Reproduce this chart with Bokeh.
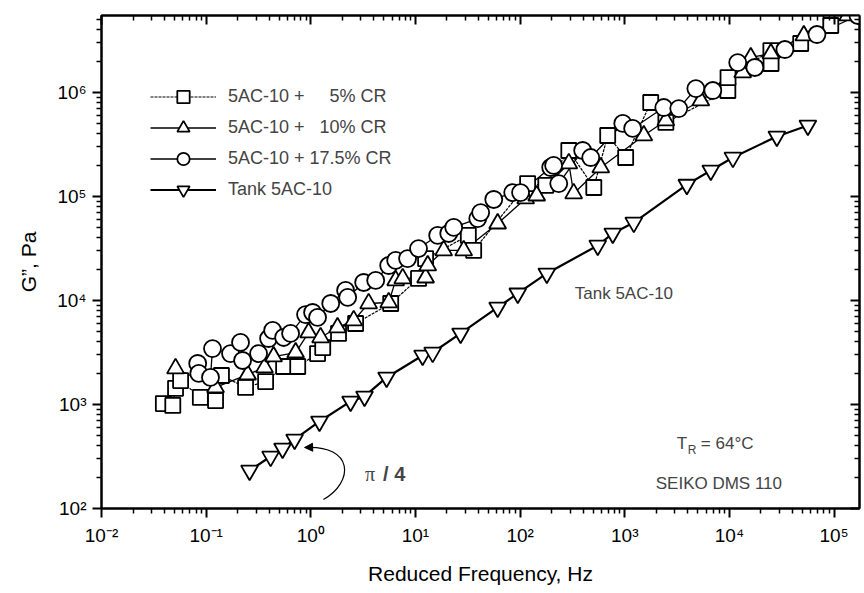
import numpy as np
from bokeh.plotting import figure
from bokeh.models import (LogAxis, FixedTicker, CustomJSTickFormatter, Legend, LegendItem,
                          Label, Arrow, NormalHead, Range1d)
from bokeh.embed import file_html
from bokeh.resources import INLINE

# ---------------- data ----------------
sq_x = [0.039, 0.048, 0.051, 0.057, 0.088, 0.123, 0.14, 0.238, 0.37, 0.55, 0.75, 1.16, 1.3, 1.84, 2.68,
        5.8, 10.7, 12.5, 32, 36, 118, 176, 292, 506, 687, 1020, 1770, 2470, 9660, 9700, 24900, 25000,
        48000, 93000]
sq_y = [1020, 980, 1430, 1700, 1170, 1090, 1900, 1460, 1660, 2320, 2320, 3090, 3530, 4820, 6010,
        9360, 16300, 25300, 42200, 30300, 133000, 128000, 277000, 122000, 386000, 237000, 801000, 515000,
        1045000, 1390000, 2530000, 1900000, 2960000, 4410000]

tri_x = [0.051, 0.123, 0.249, 0.361, 0.441, 0.716, 0.953, 1.24, 1.8, 2.57, 3.57, 5.55, 6.47, 7.55, 12.5,
         13.1, 18.6, 28.9, 61, 113, 144, 292, 325, 590, 1520, 2470, 5330, 13400, 16000, 24900, 51400, 135000]
tri_y = [2220, 1460, 1940, 2270, 2890, 3160, 4920, 4410, 5500, 6430, 9360, 9570, 15600, 16300, 16600,
         21700, 30300, 30300, 54900, 95700, 102000, 208000, 107000, 190000, 386000, 538000, 837000,
         1560000, 2170000, 2370000, 3530000, 5500000]

circ_x = [0.083, 0.085, 0.11, 0.115, 0.171, 0.213, 0.223, 0.317, 0.395, 0.432, 0.55, 0.641, 0.891, 1.04,
          1.16, 1.55, 2.15, 2.25, 3.2, 4.17, 5.55, 6.47, 8.41, 10.7, 16.3, 20.8, 23.2, 39.4, 42, 56, 85,
          101, 196, 209, 234, 396, 473, 957, 1190, 2360, 3280, 4780, 6940, 12000, 17500, 33900, 68600, 169000]
circ_y = [2480, 1990, 1820, 3450, 3090, 3950, 2650, 3090, 4310, 5150, 4410, 4820, 7330, 7670, 6870,
          9360, 12500, 10700, 14900, 15600, 21700, 24300, 25300, 31600, 42200, 44100, 50400, 61400, 70100,
          93600, 109000, 109000, 190000, 199000, 133000, 277000, 237000, 504000, 451000, 717000, 701000,
          1090000, 1045000, 1940000, 1740000, 2590000, 3610000, 5500000]

tank_x = [0.26, 0.413, 0.537, 0.70, 1.21, 2.40, 3.26, 5.3, 11.7, 14.6, 27, 61, 95, 180, 552, 768, 1220,
          3920, 6640, 10800, 28400, 56200]
tank_y = [232, 316, 378, 461, 687, 1070, 1195, 1820, 2960, 3160, 4820, 8570, 11700, 18200, 33800, 44100,
          56200, 130000, 178000, 237000, 378000, 482000]

labels = ["5AC-10 +\u2007\u2007\u20085% CR", "5AC-10 +\u2007\u200810% CR", "5AC-10 + 17.5% CR", "Tank 5AC-10"]

x_major = [1e-2, 1e-1, 1e0, 1e1, 1e2, 1e3, 1e4, 1e5]
y_major = [1e2, 1e3, 1e4, 1e5, 1e6]

# annotation anchors (data units)
tank_label_pos = (333, 1.17e4)
tr_pos = (7930, 422)
seiko_pos = (7930, 174)
pi_pos = (3.3, 217)
arc = dict(x0=1.32, y0=122, x1=0.873, y1=386, cx0=2.6, cy0=180, cx1=2.6, cy1=410)

FONT = "Liberation Sans"

# ---------------- figure ----------------
p = figure(width=864, height=593, x_axis_type="log", y_axis_type="log",
           x_range=Range1d(1e-2, 1.75e5), y_range=Range1d(1e2, 5.5e6),
           output_backend="svg", toolbar_location=None,
           min_border_left=101, min_border_right=5, min_border_top=15, min_border_bottom=85)
p.xgrid.visible = False
p.ygrid.visible = False
p.outline_line_color = "black"
p.outline_line_width = 2
p.background_fill_color = "white"
p.border_fill_color = "white"

def minors(majors):
    out = []
    for m in majors:
        out += [m * k for k in range(2, 10)]
    return out

sup_code = """
const e = Math.round(Math.log10(tick));
const map = {'-':'\u207b','0':'\u2070','1':'\u00b9','2':'\u00b2','3':'\u00b3','4':'\u2074',
             '5':'\u2075','6':'\u2076','7':'\u2077','8':'\u2078','9':'\u2079'};
return '10' + String(e).split('').map(c => map[c]).join('');
"""
blank = CustomJSTickFormatter(code="return '';")

def style_axis(ax, majors, show):
    ax.ticker = FixedTicker(ticks=majors, minor_ticks=minors(majors))
    ax.axis_line_width = 2
    ax.major_tick_line_width = 2
    ax.minor_tick_line_width = 1.5
    if show:
        ax.formatter = CustomJSTickFormatter(code=sup_code)
        ax.major_tick_out = 9
        ax.major_tick_in = 0
        ax.minor_tick_out = 5
        ax.minor_tick_in = 0
        ax.major_label_text_font = FONT
        ax.major_label_text_font_size = "19px"
        ax.major_label_text_color = "black"
    else:
        ax.formatter = blank
        ax.major_tick_out = 0
        ax.major_tick_in = 9
        ax.minor_tick_out = 0
        ax.minor_tick_in = 5
        ax.major_label_text_font_size = "1px"

xa = p.xaxis[0]
ya = p.yaxis[0]
style_axis(xa, x_major, True)
style_axis(ya, y_major, True)
xa.axis_label = "Reduced Frequency, Hz"
ya.axis_label = "G\u201d, Pa"
for a in (xa, ya):
    a.axis_label_text_font = FONT
    a.axis_label_text_font_size = "21px"
    a.axis_label_text_font_style = "normal"
    a.axis_label_text_color = "black"
xa.major_label_standoff = 7
xa.axis_label_standoff = 13
ya.major_label_standoff = 6
ya.axis_label_standoff = 14

top = LogAxis()
style_axis(top, x_major, False)
p.add_layout(top, "above")
right = LogAxis()
style_axis(right, y_major, False)
p.add_layout(right, "right")

# ---------------- lines ----------------
def sorted_xy(xs, ys):
    idx = np.argsort(xs)
    return list(np.array(xs)[idx]), list(np.array(ys)[idx])

sx, sy = sorted_xy(sq_x, sq_y)
tx, ty = sorted_xy(tri_x, tri_y)
cx, cy = sorted_xy(circ_x, circ_y)
l_sq = p.line(sx, sy, line_color="black", line_width=1.2, line_dash="3 1")
l_tri = p.line(tx, ty, line_color="black", line_width=1.3)
l_circ = p.line(cx, cy, line_color="black", line_width=1.3)
l_tank = p.line(tank_x, tank_y, line_color="black", line_width=2.2)

m_sq = p.scatter(sq_x, sq_y, marker="square", size=15, fill_color="white", line_color="black", line_width=1.8)
m_tri = p.scatter(tri_x, tri_y, marker="triangle", size=17, fill_color="white", line_color="black", line_width=1.8)
m_circ = p.scatter(circ_x, circ_y, marker="circle", size=17, fill_color="white", line_color="black", line_width=1.8)
m_tank = p.scatter(tank_x, tank_y, marker="inverted_triangle", size=17, fill_color="white", line_color="black", line_width=1.8)

legend = Legend(items=[
    LegendItem(label=labels[0], renderers=[l_sq, m_sq]),
    LegendItem(label=labels[1], renderers=[l_tri, m_tri]),
    LegendItem(label=labels[2], renderers=[l_circ, m_circ]),
    LegendItem(label=labels[3], renderers=[l_tank, m_tank]),
], location=(49, 303), glyph_width=66, glyph_height=31, label_height=31, spacing=0,
   padding=0, margin=0, border_line_alpha=0, background_fill_alpha=0,
   label_text_font=FONT, label_text_font_size="18px", label_standoff=12)
p.add_layout(legend)

# ---------------- annotations ----------------
p.add_layout(Label(x=tank_label_pos[0], y=tank_label_pos[1], text="Tank 5AC-10", text_font=FONT,
                   text_font_size="17px", text_baseline="middle", text_align="left"))
p.add_layout(Label(x=tr_pos[0], y=tr_pos[1], text="T", text_font=FONT, text_font_size="17px",
                   text_baseline="middle", x_offset=-42))
p.add_layout(Label(x=tr_pos[0], y=tr_pos[1], text="R", text_font=FONT, text_font_size="12px",
                   text_baseline="middle", x_offset=-31, y_offset=-7))
p.add_layout(Label(x=tr_pos[0], y=tr_pos[1], text="= 64\u00b0C", text_font=FONT, text_font_size="17px",
                   text_baseline="middle", x_offset=-18))
p.add_layout(Label(x=seiko_pos[0], y=seiko_pos[1], text="SEIKO DMS 110", text_font=FONT,
                   text_font_size="17px", text_baseline="middle", text_align="center"))
p.add_layout(Label(x=pi_pos[0], y=pi_pos[1], text="\u03c0", text_font="Liberation Serif",
                   text_font_size="20px", text_baseline="middle"))
p.add_layout(Label(x=pi_pos[0], y=pi_pos[1], text="/ 4", text_font=FONT, text_font_style="bold",
                   text_font_size="20px", text_baseline="middle", x_offset=18))

p.bezier(x0=[arc["x0"]], y0=[arc["y0"]], x1=[arc["x1"]], y1=[arc["y1"]],
         cx0=[arc["cx0"]], cy0=[arc["cy0"]], cx1=[arc["cx1"]], cy1=[arc["cy1"]],
         line_color="black", line_width=1.2)
p.add_layout(Arrow(end=NormalHead(size=8, fill_color="black", line_color="black"),
                   x_start=1.02, y_start=388, x_end=arc["x1"], y_end=arc["y1"],
                   line_color="black", line_width=1.2))

open("out.html", "w").write(file_html(p, INLINE))
